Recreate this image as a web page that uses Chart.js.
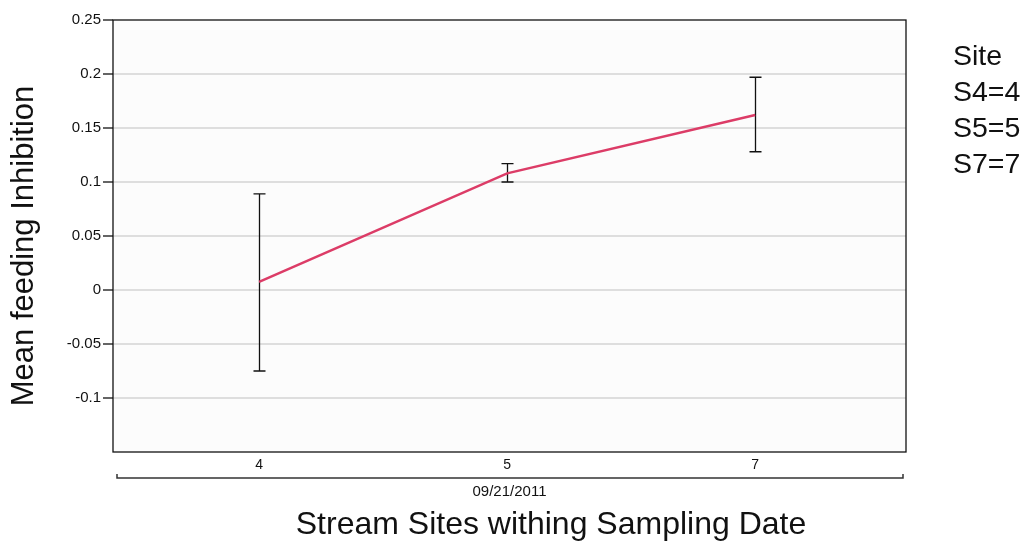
<!DOCTYPE html>
<html>
<head>
<meta charset="utf-8">
<style>
  html, body { margin: 0; padding: 0; background: #fff; }
  #wrap { width: 1028px; height: 544px; position: relative; }
</style>
<script src="https://cdn.jsdelivr.net/npm/chart.js@4.4.1/dist/chart.umd.min.js"></script>
</head>
<body>
<div id="wrap"><canvas id="chart" width="1028" height="544"></canvas></div>
<script>
// Sites along the x axis, and the mean with its error bar ends
const siteLabels = ['4', '5', '7'];
const meanInhibition = [0.0075, 0.108, 0.162];
const errorUpper = [0.089, 0.117, 0.197];
const errorLower = [-0.075, 0.1, 0.128];

const yTickValues = [0.25, 0.2, 0.15, 0.1, 0.05, 0, -0.05, -0.1, -0.15];
const yTickLabels = ['0.25', '0.2', '0.15', '0.1', '0.05', '0', '-0.05', '-0.1', ''];

const legendLines = ['Site', 'S4=4', 'S5=5', 'S7=7'];
const dateLabel = '09/21/2011';
const xTitle = 'Stream Sites withing Sampling Date';
const yTitle = 'Mean feeding Inhibition';

const FONT = '"Liberation Sans", Arial, Helvetica, sans-serif';

// plot background + frame
const framePlugin = {
    id: 'frame',
    beforeDraw(chart) {
        const { ctx, chartArea: a } = chart;
        ctx.save();
        ctx.fillStyle = '#fcfcfc';
        ctx.fillRect(a.left, a.top, a.right - a.left, a.bottom - a.top);
        ctx.restore();
    },
    afterDatasetsDraw(chart) {
        const { ctx, chartArea: a } = chart;
        ctx.save();
        ctx.strokeStyle = '#111';
        ctx.lineWidth = 1.3;
        ctx.strokeRect(a.left, a.top, a.right - a.left, a.bottom - a.top);
        ctx.restore();
    }
};

// error bars from the arrays
const errorBarPlugin = {
    id: 'errorBars',
    beforeDatasetsDraw(chart) {
        const { ctx } = chart;
        const xs = chart.scales.x, ys = chart.scales.y;
        ctx.save();
        ctx.strokeStyle = '#111';
        ctx.lineWidth = 1.3;
        siteLabels.forEach((s, i) => {
            const x = Math.round(xs.getPixelForValue(i)) + 0.5;
            const yTop = ys.getPixelForValue(errorUpper[i]);
            const yBot = ys.getPixelForValue(errorLower[i]);
            ctx.beginPath();
            ctx.moveTo(x, yTop); ctx.lineTo(x, yBot);
            ctx.moveTo(x - 6, yTop); ctx.lineTo(x + 6, yTop);
            ctx.moveTo(x - 6, yBot); ctx.lineTo(x + 6, yBot);
            ctx.stroke();
        });
        ctx.restore();
    }
};

// date bracket, axis titles, site legend
const textPlugin = {
    id: 'texts',
    afterDraw(chart) {
        const { ctx, chartArea: a } = chart;
        ctx.save();
        ctx.strokeStyle = '#333';
        ctx.lineWidth = 1.5;
        const by = a.bottom + 26;
        ctx.beginPath();
        ctx.moveTo(a.left + 4, by - 4); ctx.lineTo(a.left + 4, by);
        ctx.lineTo(a.right - 3, by); ctx.lineTo(a.right - 3, by - 4);
        ctx.stroke();

        ctx.fillStyle = '#111';
        ctx.textAlign = 'center';
        ctx.textBaseline = 'middle';
        ctx.font = '15px ' + FONT;
        ctx.fillText(dateLabel, (a.left + a.right) / 2, by + 14);

        ctx.font = '32px ' + FONT;
        ctx.fillText(xTitle, 551, 525);

        ctx.save();
        ctx.translate(24, 246);
        ctx.rotate(-Math.PI / 2);
        ctx.font = '31px ' + FONT;
        ctx.fillText(yTitle, 0, 0);
        ctx.restore();

        ctx.textAlign = 'left';
        ctx.textBaseline = 'alphabetic';
        ctx.font = '28.5px ' + FONT;
        legendLines.forEach((t, i) => ctx.fillText(t, 953, 65 + i * 36));
        ctx.restore();
    }
};

const ctx = document.getElementById('chart').getContext('2d');
const chart = new Chart(ctx, {
    type: 'line',
    data: {
        datasets: [{
            data: meanInhibition.map((v, i) => ({ x: i, y: v })),
            borderColor: '#dc3c67',
            borderWidth: 2.5,
            pointRadius: 0,
            tension: 0,
            fill: false
        }]
    },
    options: {
        responsive: false,
        animation: false,
        devicePixelRatio: 1,
        layout: { padding: { top: 20, right: 122, left: 0, bottom: 0 } },
        plugins: {
            legend: { display: false },
            tooltip: { enabled: false }
        },
        scales: {
            x: {
                type: 'linear',
                min: -0.589,
                max: 2.608,
                afterBuildTicks(scale) {
                    scale.ticks = siteLabels.map((s, i) => ({ value: i }));
                },
                afterFit(scale) { scale.height = 92; },
                grid: { display: false, drawTicks: false },
                border: { display: false },
                ticks: {
                    padding: 5,
                    color: '#111',
                    font: { family: FONT, size: 14 },
                    callback: (v) => siteLabels[v] ?? ''
                }
            },
            y: {
                min: -0.15,
                max: 0.25,
                afterBuildTicks(scale) {
                    scale.ticks = yTickValues.map(v => ({ value: v }));
                },
                afterFit(scale) { scale.width = 113; },
                grid: {
                    color: (c) => (c.tick && (c.tick.value === 0.25 || c.tick.value === -0.15)) ? 'rgba(0,0,0,0)' : '#dedede',
                    lineWidth: 2,
                    tickLength: 10,
                    tickWidth: 1.3,
                    tickColor: (c) => (c.tick && c.tick.value === -0.15) ? 'rgba(0,0,0,0)' : '#111'
                },
                border: { display: false },
                ticks: {
                    padding: 2,
                    color: '#111',
                    font: { family: FONT, size: 15 },
                    callback: (v) => {
                        const k = yTickValues.findIndex(t => Math.abs(t - v) < 1e-9);
                        return k >= 0 ? yTickLabels[k] : '';
                    }
                }
            }
        }
    },
    plugins: [framePlugin, errorBarPlugin, textPlugin]
});
</script>
</body>
</html>
